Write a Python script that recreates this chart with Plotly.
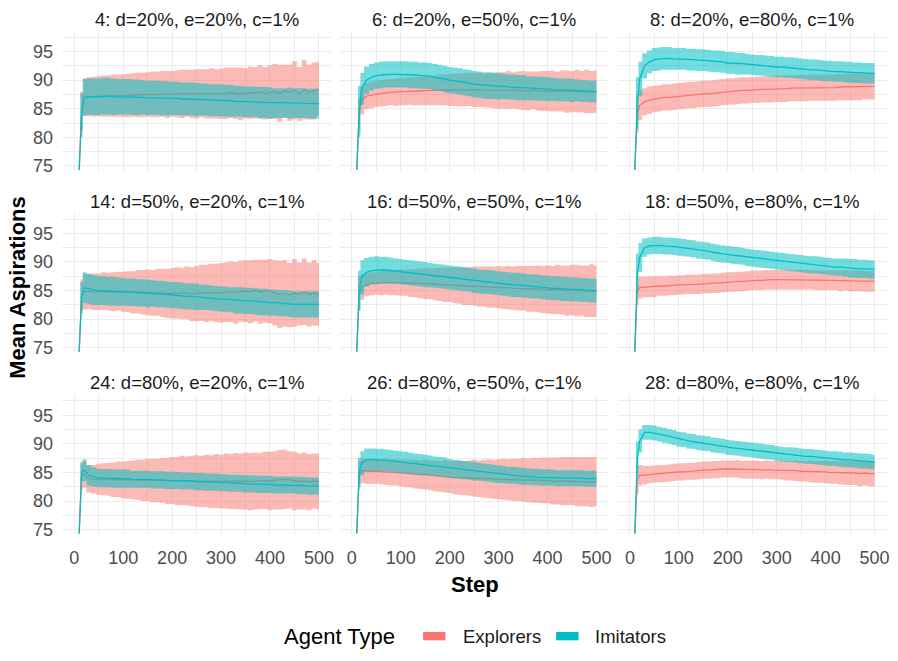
import plotly.graph_objects as go

# ---------------- data ----------------
STEPS = [10, 15, 20, 30, 40, 50, 60, 70, 80, 90, 100,
         110, 120, 130, 140, 150, 160, 170, 180, 190, 200,
         210, 220, 230, 240, 250, 260, 270, 280, 290, 300,
         310, 320, 330, 340, 350, 360, 370, 380, 390, 400,
         410, 420, 430, 440, 450, 460, 470, 480, 490, 500]

PANEL_TITLES = ["4: d=20%, e=20%, c=1%", "6: d=20%, e=50%, c=1%", "8: d=20%, e=80%, c=1%",
                "14: d=50%, e=20%, c=1%", "16: d=50%, e=50%, c=1%", "18: d=50%, e=80%, c=1%",
                "24: d=80%, e=20%, c=1%", "26: d=80%, e=50%, c=1%", "28: d=80%, e=80%, c=1%"]

X_TICKS = [0, 100, 200, 300, 400, 500]
Y_TICKS = [75, 80, 85, 90, 95]
SERIES_NAMES = ["Explorers", "Imitators"]

# panel 4
EXP_MEAN_4 = [74.3, 84.0, 87.0, 87.1, 87.1, 87.2, 87.2, 87.2, 87.3, 87.3, 87.3,
              87.3, 87.4, 87.4, 87.4, 87.5, 87.5, 87.5, 87.6, 87.5, 87.6,
              87.6, 87.6, 87.7, 87.6, 87.6, 87.7, 87.6, 87.7, 87.6, 87.6,
              87.7, 87.8, 87.7, 87.6, 87.7, 87.8, 87.8, 87.9, 87.7, 87.9,
              88.0, 87.7, 88.1, 87.8, 88.2, 87.6, 88.3, 87.9, 88.1, 88.5]
EXP_SD_4 = [0.0, 4.0, 3.3, 3.4, 3.5, 3.5, 3.6, 3.6, 3.7, 3.7, 3.7,
            3.8, 3.8, 3.9, 3.9, 3.9, 4.0, 4.0, 4.0, 4.1, 4.0,
            4.1, 4.2, 4.1, 4.2, 4.3, 4.2, 4.3, 4.4, 4.3, 4.4,
            4.5, 4.4, 4.5, 4.6, 4.4, 4.6, 4.5, 4.7, 4.6, 4.7,
            4.8, 5.0, 4.6, 4.9, 5.1, 4.7, 5.2, 4.8, 5.0, 4.7]
IMI_MEAN_4 = [74.3, 84.5, 87.0, 87.1, 87.1, 87.1, 87.2, 87.2, 87.1, 87.1, 87.1,
              87.1, 87.0, 87.0, 87.0, 86.9, 86.9, 86.9, 86.8, 86.8, 86.8,
              86.8, 86.7, 86.7, 86.7, 86.6, 86.6, 86.6, 86.5, 86.5, 86.5,
              86.4, 86.4, 86.3, 86.3, 86.2, 86.2, 86.2, 86.1, 86.1, 86.0,
              86.0, 86.0, 86.0, 86.0, 86.0, 86.0, 86.0, 85.9, 85.9, 85.9]
IMI_SD_4 = [0.0, 3.2, 3.2, 3.2, 3.2, 3.2, 3.2, 3.2, 3.2, 3.1, 3.1,
            3.1, 3.1, 3.1, 3.0, 3.0, 3.0, 3.0, 3.0, 3.0, 2.9,
            2.9, 2.9, 2.9, 2.9, 2.9, 2.8, 2.8, 2.8, 2.8, 2.8,
            2.8, 2.8, 2.7, 2.7, 2.7, 2.7, 2.7, 2.7, 2.7, 2.7,
            2.6, 2.6, 2.6, 2.7, 2.6, 2.6, 2.6, 2.6, 2.6, 2.6]

# panel 6
EXP_MEAN_6 = [74.3, 84.0, 86.5, 87.2, 87.4, 87.6, 87.7, 87.8, 87.9, 87.9, 88.0,
              88.0, 88.1, 88.1, 88.1, 88.2, 88.2, 88.2, 88.3, 88.3, 88.3,
              88.3, 88.3, 88.3, 88.4, 88.3, 88.3, 88.2, 88.3, 88.2, 88.2,
              88.2, 88.3, 88.2, 88.2, 88.2, 88.1, 88.2, 88.1, 88.1, 88.1,
              88.1, 88.0, 88.1, 88.0, 88.0, 88.1, 88.0, 88.0, 87.9, 88.0]
EXP_SD_6 = [0.0, 3.0, 2.5, 2.3, 2.3, 2.3, 2.3, 2.3, 2.3, 2.4, 2.4,
            2.4, 2.4, 2.5, 2.5, 2.6, 2.6, 2.6, 2.7, 2.7, 2.8,
            2.8, 2.9, 2.9, 2.9, 3.0, 3.0, 3.0, 3.1, 3.1, 3.2,
            3.2, 3.3, 3.2, 3.3, 3.4, 3.4, 3.3, 3.4, 3.5, 3.5,
            3.6, 3.5, 3.6, 3.7, 3.6, 3.7, 3.6, 3.8, 3.7, 3.7]
IMI_MEAN_6 = [74.3, 84.5, 88.5, 90.0, 90.5, 90.8, 90.9, 91.0, 91.0, 91.0, 91.0,
              91.0, 90.9, 90.9, 90.8, 90.8, 90.7, 90.5, 90.4, 90.2, 90.0,
              89.9, 89.8, 89.6, 89.5, 89.3, 89.2, 89.1, 89.0, 89.0, 88.9,
              88.9, 88.8, 88.8, 88.7, 88.7, 88.6, 88.6, 88.5, 88.5, 88.4,
              88.4, 88.3, 88.3, 88.3, 88.2, 88.2, 88.1, 88.1, 88.0, 88.0]
IMI_SD_6 = [0.0, 4.5, 2.8, 2.4, 2.3, 2.3, 2.3, 2.3, 2.3, 2.3, 2.3,
            2.3, 2.3, 2.3, 2.3, 2.3, 2.3, 2.3, 2.3, 2.3, 2.3,
            2.3, 2.3, 2.3, 2.3, 2.3, 2.3, 2.3, 2.3, 2.3, 2.3,
            2.2, 2.2, 2.2, 2.2, 2.2, 2.1, 2.1, 2.1, 2.1, 2.1,
            2.0, 2.0, 2.0, 2.0, 2.0, 1.9, 1.9, 1.9, 1.9, 1.9]

# panel 8
EXP_MEAN_8 = [74.3, 84.0, 85.6, 86.2, 86.5, 86.7, 86.8, 87.0, 87.0, 87.1, 87.2,
              87.3, 87.4, 87.4, 87.5, 87.6, 87.6, 87.7, 87.8, 87.9, 88.0,
              88.0, 88.1, 88.2, 88.2, 88.3, 88.3, 88.4, 88.4, 88.4, 88.5,
              88.5, 88.5, 88.6, 88.6, 88.6, 88.6, 88.7, 88.7, 88.7, 88.7,
              88.7, 88.7, 88.8, 88.8, 88.8, 88.8, 88.8, 88.9, 88.9, 88.9]
EXP_SD_8 = [0.0, 3.3, 2.6, 2.4, 2.4, 2.3, 2.3, 2.3, 2.3, 2.3, 2.3,
            2.3, 2.3, 2.3, 2.3, 2.3, 2.3, 2.3, 2.3, 2.3, 2.3,
            2.3, 2.3, 2.3, 2.3, 2.3, 2.3, 2.3, 2.3, 2.3, 2.3,
            2.3, 2.3, 2.3, 2.3, 2.3, 2.3, 2.3, 2.3, 2.3, 2.3,
            2.3, 2.3, 2.3, 2.3, 2.3, 2.3, 2.3, 2.3, 2.3, 2.3]
IMI_MEAN_8 = [74.3, 86.0, 90.2, 92.5, 93.2, 93.6, 93.7, 93.8, 93.8, 93.7, 93.7,
              93.7, 93.6, 93.6, 93.5, 93.5, 93.4, 93.3, 93.3, 93.2, 93.0,
              93.0, 92.9, 92.9, 92.8, 92.7, 92.6, 92.6, 92.5, 92.4, 92.3,
              92.3, 92.2, 92.2, 92.1, 92.0, 91.9, 91.8, 91.8, 91.7, 91.6,
              91.6, 91.5, 91.5, 91.4, 91.4, 91.3, 91.3, 91.2, 91.2, 91.2]
IMI_SD_8 = [0.0, 4.5, 3.0, 2.2, 2.0, 2.0, 2.0, 2.0, 2.0, 1.9, 1.9,
            1.9, 1.9, 1.9, 1.9, 1.9, 1.9, 1.9, 1.9, 1.9, 1.9,
            1.9, 1.9, 1.9, 1.8, 1.8, 1.8, 1.8, 1.8, 1.8, 1.8,
            1.8, 1.8, 1.8, 1.8, 1.8, 1.8, 1.8, 1.8, 1.8, 1.8,
            1.8, 1.8, 1.8, 1.8, 1.8, 1.8, 1.8, 1.8, 1.8, 1.8]

# panel 14
EXP_MEAN_14 = [74.3, 84.0, 84.8, 84.9, 84.8, 84.8, 84.9, 84.8, 84.8, 84.9, 84.8,
               84.8, 84.7, 84.8, 84.7, 84.7, 84.6, 84.7, 84.6, 84.5, 84.5,
               84.6, 84.5, 84.6, 84.4, 84.5, 84.6, 84.5, 84.7, 84.6, 84.6,
               84.7, 84.8, 84.6, 84.9, 84.9, 84.8, 85.0, 84.8, 84.9, 84.9,
               84.6, 84.3, 84.5, 84.2, 84.6, 84.4, 84.8, 84.3, 84.6, 84.3]
EXP_SD_14 = [0.0, 3.0, 3.1, 3.1, 3.2, 3.2, 3.3, 3.3, 3.4, 3.4, 3.5,
             3.6, 3.7, 3.8, 3.9, 4.0, 4.0, 4.1, 4.2, 4.3, 4.4,
             4.5, 4.5, 4.6, 4.7, 4.8, 4.9, 5.0, 5.0, 5.1, 5.2,
             5.2, 5.3, 5.4, 5.3, 5.4, 5.5, 5.4, 5.6, 5.5, 5.6,
             5.7, 5.9, 5.8, 5.6, 5.9, 5.5, 5.8, 5.6, 5.7, 5.5]
IMI_MEAN_14 = [74.3, 84.0, 85.5, 85.3, 85.1, 85.0, 85.0, 84.9, 84.9, 84.8, 84.8,
               84.7, 84.7, 84.6, 84.6, 84.5, 84.5, 84.4, 84.4, 84.3, 84.2,
               84.2, 84.1, 84.0, 84.0, 83.9, 83.8, 83.8, 83.7, 83.6, 83.5,
               83.5, 83.4, 83.3, 83.3, 83.2, 83.2, 83.1, 83.0, 83.0, 82.9,
               82.9, 82.8, 82.8, 82.7, 82.6, 82.6, 82.6, 82.6, 82.6, 82.6]
IMI_SD_14 = [0.0, 2.5, 2.7, 2.6, 2.6, 2.5, 2.5, 2.5, 2.5, 2.5, 2.4,
             2.4, 2.4, 2.4, 2.4, 2.4, 2.3, 2.3, 2.3, 2.3, 2.3,
             2.3, 2.3, 2.3, 2.3, 2.3, 2.2, 2.2, 2.2, 2.2, 2.2,
             2.2, 2.2, 2.3, 2.3, 2.3, 2.3, 2.3, 2.3, 2.3, 2.3,
             2.3, 2.3, 2.3, 2.3, 2.3, 2.3, 2.3, 2.3, 2.3, 2.3]

# panel 16
EXP_MEAN_16 = [74.3, 84.5, 85.6, 86.0, 86.2, 86.3, 86.3, 86.4, 86.4, 86.4, 86.4,
               86.4, 86.3, 86.3, 86.3, 86.2, 86.2, 86.1, 86.1, 86.0, 86.0,
               85.9, 85.9, 85.8, 85.8, 85.8, 85.7, 85.7, 85.6, 85.6, 85.6,
               85.5, 85.5, 85.4, 85.4, 85.4, 85.3, 85.3, 85.3, 85.2, 85.2,
               85.1, 85.2, 85.1, 85.0, 85.1, 85.0, 85.0, 84.9, 85.0, 84.9]
EXP_SD_16 = [0.0, 3.0, 2.2, 2.0, 2.0, 2.0, 2.1, 2.1, 2.2, 2.2, 2.3,
             2.3, 2.4, 2.5, 2.6, 2.7, 2.7, 2.8, 2.9, 3.0, 3.0,
             3.1, 3.2, 3.3, 3.3, 3.4, 3.5, 3.5, 3.6, 3.6, 3.7,
             3.7, 3.8, 3.8, 3.9, 3.9, 4.0, 4.0, 4.1, 4.1, 4.2,
             4.2, 4.3, 4.3, 4.4, 4.4, 4.5, 4.4, 4.5, 4.6, 4.5]
IMI_MEAN_16 = [74.3, 85.0, 87.3, 88.2, 88.5, 88.6, 88.6, 88.6, 88.5, 88.4, 88.3,
               88.2, 88.1, 88.0, 87.9, 87.8, 87.7, 87.6, 87.5, 87.4, 87.3,
               87.2, 87.1, 87.0, 86.9, 86.7, 86.6, 86.5, 86.5, 86.4, 86.3,
               86.2, 86.1, 86.0, 86.0, 85.9, 85.8, 85.7, 85.7, 85.6, 85.5,
               85.4, 85.4, 85.3, 85.3, 85.2, 85.2, 85.1, 85.1, 85.0, 85.0]
IMI_SD_16 = [0.0, 3.5, 3.0, 2.5, 2.4, 2.4, 2.3, 2.3, 2.3, 2.2, 2.2,
             2.2, 2.2, 2.2, 2.2, 2.2, 2.1, 2.1, 2.1, 2.1, 2.1,
             2.1, 2.1, 2.1, 2.1, 2.1, 2.1, 2.1, 2.1, 2.1, 2.1,
             2.1, 2.1, 2.1, 2.1, 2.1, 2.1, 2.1, 2.1, 2.1, 2.1,
             2.1, 2.1, 2.1, 2.1, 2.1, 2.1, 2.1, 2.1, 2.1, 2.1]

# panel 18
EXP_MEAN_18 = [74.3, 85.0, 85.5, 85.6, 85.7, 85.7, 85.8, 85.8, 85.9, 85.9, 86.0,
               86.0, 86.1, 86.1, 86.1, 86.2, 86.2, 86.3, 86.3, 86.4, 86.5,
               86.5, 86.6, 86.6, 86.7, 86.8, 86.8, 86.8, 86.9, 86.9, 86.9,
               86.9, 86.9, 86.9, 86.9, 86.9, 86.9, 86.9, 86.8, 86.8, 86.8,
               86.8, 86.8, 86.7, 86.8, 86.7, 86.7, 86.7, 86.6, 86.6, 86.6]
EXP_SD_18 = [0.0, 2.5, 1.9, 1.8, 1.8, 1.8, 1.7, 1.7, 1.7, 1.7, 1.7,
             1.7, 1.7, 1.7, 1.7, 1.7, 1.7, 1.7, 1.7, 1.7, 1.7,
             1.7, 1.7, 1.7, 1.7, 1.7, 1.7, 1.7, 1.7, 1.7, 1.7,
             1.7, 1.7, 1.7, 1.7, 1.7, 1.7, 1.7, 1.7, 1.7, 1.7,
             1.7, 1.7, 1.8, 1.8, 1.8, 1.8, 1.8, 1.8, 1.8, 1.8]
IMI_MEAN_18 = [74.3, 88.0, 90.8, 92.5, 92.8, 92.9, 92.9, 92.8, 92.8, 92.7, 92.6,
               92.5, 92.4, 92.3, 92.1, 92.0, 91.9, 91.7, 91.5, 91.4, 91.3,
               91.2, 91.1, 91.0, 90.8, 90.7, 90.6, 90.5, 90.4, 90.3, 90.2,
               90.1, 90.0, 89.9, 89.8, 89.7, 89.6, 89.5, 89.5, 89.4, 89.3,
               89.2, 89.1, 89.1, 89.0, 88.9, 88.9, 88.8, 88.8, 88.7, 88.7]
IMI_SD_18 = [0.0, 3.5, 2.5, 1.6, 1.5, 1.5, 1.5, 1.5, 1.5, 1.5, 1.5,
             1.5, 1.5, 1.5, 1.5, 1.5, 1.5, 1.5, 1.5, 1.5, 1.5,
             1.5, 1.5, 1.5, 1.5, 1.5, 1.5, 1.5, 1.5, 1.5, 1.5,
             1.5, 1.5, 1.5, 1.5, 1.5, 1.5, 1.5, 1.5, 1.5, 1.5,
             1.5, 1.5, 1.5, 1.6, 1.6, 1.6, 1.6, 1.6, 1.6, 1.6]

# panel 24
EXP_MEAN_24 = [74.3, 84.5, 84.6, 83.9, 83.8, 83.8, 83.8, 83.8, 83.7, 83.8, 83.7,
               83.7, 83.7, 83.7, 83.6, 83.7, 83.6, 83.6, 83.6, 83.5, 83.6,
               83.5, 83.6, 83.5, 83.5, 83.5, 83.4, 83.5, 83.4, 83.5, 83.4,
               83.5, 83.4, 83.5, 83.4, 83.5, 83.4, 83.5, 83.5, 83.6, 83.5,
               83.6, 83.7, 83.8, 83.7, 83.5, 83.4, 83.5, 83.3, 83.5, 83.4]
EXP_SD_24 = [0.0, 2.5, 2.3, 2.4, 2.5, 2.7, 2.8, 2.9, 3.0, 3.1, 3.2,
             3.3, 3.4, 3.5, 3.6, 3.7, 3.8, 3.8, 3.9, 4.0, 4.1,
             4.2, 4.3, 4.3, 4.4, 4.5, 4.5, 4.6, 4.6, 4.7, 4.7,
             4.8, 4.8, 4.9, 4.9, 5.0, 5.0, 5.0, 4.9, 5.0, 5.1,
             5.1, 5.2, 5.2, 5.0, 5.1, 4.9, 5.0, 4.9, 4.8, 4.9]
IMI_MEAN_24 = [74.3, 85.0, 85.4, 84.5, 84.2, 84.0, 84.0, 84.0, 83.9, 83.9, 83.9,
               83.9, 83.8, 83.8, 83.8, 83.8, 83.7, 83.7, 83.7, 83.6, 83.6,
               83.6, 83.5, 83.5, 83.5, 83.4, 83.4, 83.3, 83.3, 83.3, 83.2,
               83.2, 83.1, 83.1, 83.1, 83.0, 83.0, 83.0, 82.9, 82.9, 82.9,
               82.8, 82.8, 82.8, 82.8, 82.8, 82.7, 82.7, 82.6, 82.6, 82.6]
IMI_SD_24 = [0.0, 1.6, 1.9, 1.8, 1.7, 1.6, 1.6, 1.6, 1.6, 1.6, 1.6,
             1.6, 1.5, 1.5, 1.5, 1.5, 1.5, 1.5, 1.5, 1.5, 1.5,
             1.5, 1.5, 1.5, 1.5, 1.5, 1.5, 1.5, 1.5, 1.5, 1.5,
             1.5, 1.5, 1.5, 1.5, 1.5, 1.5, 1.5, 1.5, 1.5, 1.5,
             1.5, 1.5, 1.5, 1.5, 1.5, 1.5, 1.5, 1.5, 1.5, 1.5]

# panel 26
EXP_MEAN_26 = [74.3, 84.5, 85.3, 85.2, 85.2, 85.2, 85.1, 85.1, 85.0, 85.0, 84.9,
               84.8, 84.8, 84.7, 84.6, 84.6, 84.5, 84.4, 84.3, 84.3, 84.2,
               84.1, 84.1, 84.0, 84.0, 84.0, 83.9, 83.9, 83.9, 83.8, 83.8,
               83.8, 83.7, 83.7, 83.7, 83.7, 83.6, 83.6, 83.6, 83.6, 83.6,
               83.5, 83.5, 83.5, 83.5, 83.5, 83.4, 83.4, 83.4, 83.3, 83.4]
EXP_SD_26 = [0.0, 2.5, 2.2, 2.2, 2.2, 2.2, 2.2, 2.3, 2.3, 2.3, 2.3,
             2.4, 2.4, 2.5, 2.5, 2.6, 2.6, 2.7, 2.7, 2.8, 2.8,
             2.9, 3.0, 3.0, 3.1, 3.2, 3.2, 3.3, 3.4, 3.4, 3.5,
             3.6, 3.6, 3.7, 3.7, 3.8, 3.8, 3.9, 3.9, 4.0, 4.0,
             4.1, 4.1, 4.2, 4.2, 4.2, 4.3, 4.3, 4.3, 4.4, 4.3]
IMI_MEAN_26 = [74.3, 85.0, 86.6, 87.2, 87.2, 87.2, 87.2, 87.1, 87.0, 86.9, 86.8,
               86.7, 86.6, 86.5, 86.4, 86.3, 86.2, 86.1, 86.0, 85.9, 85.7,
               85.6, 85.5, 85.4, 85.3, 85.2, 85.1, 85.0, 84.9, 84.8, 84.7,
               84.6, 84.5, 84.5, 84.4, 84.3, 84.3, 84.2, 84.2, 84.1, 84.1,
               84.1, 84.0, 84.0, 84.0, 84.0, 84.0, 84.0, 83.9, 83.9, 83.9]
IMI_SD_26 = [0.0, 2.5, 2.1, 2.0, 2.0, 1.95, 1.95, 1.9, 1.9, 1.9, 1.9,
             1.9, 1.85, 1.8, 1.8, 1.8, 1.75, 1.7, 1.7, 1.7, 1.65,
             1.6, 1.6, 1.6, 1.6, 1.6, 1.55, 1.55, 1.55, 1.55, 1.55,
             1.5, 1.5, 1.5, 1.5, 1.5, 1.45, 1.45, 1.45, 1.45, 1.45,
             1.4, 1.4, 1.4, 1.4, 1.4, 1.4, 1.4, 1.4, 1.4, 1.4]

# panel 28
EXP_MEAN_28 = [74.3, 83.7, 84.5, 84.5, 84.6, 84.7, 84.8, 84.8, 84.9, 85.0, 85.1,
               85.1, 85.2, 85.2, 85.3, 85.4, 85.4, 85.5, 85.5, 85.6, 85.6,
               85.6, 85.6, 85.5, 85.5, 85.5, 85.5, 85.4, 85.5, 85.4, 85.4,
               85.4, 85.3, 85.3, 85.3, 85.2, 85.2, 85.2, 85.1, 85.1, 85.1,
               85.0, 85.0, 85.0, 84.9, 84.9, 84.9, 84.8, 84.9, 84.8, 84.8]
EXP_SD_28 = [0.0, 2.5, 1.8, 1.6, 1.5, 1.5, 1.5, 1.5, 1.5, 1.5, 1.5,
             1.5, 1.5, 1.5, 1.5, 1.5, 1.5, 1.5, 1.5, 1.5, 1.5,
             1.5, 1.55, 1.55, 1.6, 1.6, 1.6, 1.6, 1.6, 1.6, 1.6,
             1.7, 1.7, 1.7, 1.8, 1.8, 1.8, 1.9, 1.9, 1.9, 2.0,
             2.0, 2.0, 2.1, 2.1, 2.1, 2.1, 2.2, 2.2, 2.2, 2.2]
IMI_MEAN_28 = [74.3, 87.4, 90.5, 92.0, 92.0, 91.9, 91.7, 91.5, 91.3, 91.1, 90.8,
               90.7, 90.5, 90.4, 90.2, 90.1, 90.0, 89.8, 89.7, 89.6, 89.4,
               89.3, 89.2, 89.1, 89.0, 88.9, 88.8, 88.7, 88.6, 88.5, 88.3,
               88.2, 88.1, 88.1, 88.0, 87.9, 87.8, 87.8, 87.7, 87.6, 87.5,
               87.4, 87.4, 87.3, 87.2, 87.2, 87.1, 87.0, 87.0, 86.9, 86.8]
IMI_SD_28 = [0.0, 3.0, 2.0, 1.3, 1.3, 1.3, 1.3, 1.3, 1.3, 1.3, 1.3,
             1.3, 1.3, 1.3, 1.3, 1.3, 1.3, 1.3, 1.3, 1.3, 1.3,
             1.3, 1.3, 1.3, 1.3, 1.3, 1.3, 1.3, 1.3, 1.3, 1.3,
             1.3, 1.3, 1.3, 1.3, 1.3, 1.3, 1.3, 1.3, 1.3, 1.3,
             1.3, 1.3, 1.3, 1.3, 1.3, 1.3, 1.3, 1.3, 1.3, 1.3]

PANELS = [
    (EXP_MEAN_4, EXP_SD_4, IMI_MEAN_4, IMI_SD_4),
    (EXP_MEAN_6, EXP_SD_6, IMI_MEAN_6, IMI_SD_6),
    (EXP_MEAN_8, EXP_SD_8, IMI_MEAN_8, IMI_SD_8),
    (EXP_MEAN_14, EXP_SD_14, IMI_MEAN_14, IMI_SD_14),
    (EXP_MEAN_16, EXP_SD_16, IMI_MEAN_16, IMI_SD_16),
    (EXP_MEAN_18, EXP_SD_18, IMI_MEAN_18, IMI_SD_18),
    (EXP_MEAN_24, EXP_SD_24, IMI_MEAN_24, IMI_SD_24),
    (EXP_MEAN_26, EXP_SD_26, IMI_MEAN_26, IMI_SD_26),
    (EXP_MEAN_28, EXP_SD_28, IMI_MEAN_28, IMI_SD_28),
]

# ---------------- style ----------------
W, H = 898, 661
FONT = "Liberation Sans, Arial, sans-serif"
EXP_COL = "#F8766D"
IMI_COL = "#00BFC4"
EXP_FILL = "rgba(248,118,109,0.50)"
IMI_FILL = "rgba(0,191,196,0.55)"
GRID = "#EBEBEB"

COL_LEFT = [62.25, 340.75, 619.75]
PANEL_W = 270.0
ROW_TOP = [31.8, 215.3, 398.8]
PANEL_H = 140.3

fig = go.Figure()
layout = dict(
    width=W, height=H, margin=dict(l=0, r=0, t=0, b=0),
    paper_bgcolor="white", plot_bgcolor="white", showlegend=False,
    font=dict(family=FONT, color="#4D4D4D"),
)
annotations = []
shapes = []

for i, (em, es, im, isd) in enumerate(PANELS):
    r, c = divmod(i, 3)
    n = i + 1
    xa = "x" if n == 1 else f"x{n}"
    ya = "y" if n == 1 else f"y{n}"
    x0 = COL_LEFT[c] / W
    x1 = (COL_LEFT[c] + PANEL_W) / W
    y1 = 1 - ROW_TOP[r] / H
    y0 = 1 - (ROW_TOP[r] + PANEL_H) / H

    e_lo = [m - s for m, s in zip(em, es)]
    e_hi = [m + s for m, s in zip(em, es)]
    i_lo = [m - s for m, s in zip(im, isd)]
    i_hi = [m + s for m, s in zip(im, isd)]

    # explorer band (bottom layer)
    fig.add_trace(go.Scatter(x=STEPS, y=e_lo, mode="lines", xaxis=xa, yaxis=ya,
                             line=dict(width=0, shape="hvh", color=EXP_FILL), hoverinfo="skip"))
    fig.add_trace(go.Scatter(x=STEPS, y=e_hi, mode="lines", xaxis=xa, yaxis=ya, fill="tonexty",
                             fillcolor=EXP_FILL, line=dict(width=0, shape="hvh", color=EXP_FILL),
                             hoverinfo="skip"))
    # mean lines
    fig.add_trace(go.Scatter(x=STEPS, y=em, mode="lines", xaxis=xa, yaxis=ya,
                             line=dict(color=EXP_COL, width=1.3), hoverinfo="skip"))
    fig.add_trace(go.Scatter(x=STEPS, y=im, mode="lines", xaxis=xa, yaxis=ya,
                             line=dict(color=IMI_COL, width=1.3), hoverinfo="skip"))
    # imitator band (top layer)
    fig.add_trace(go.Scatter(x=STEPS, y=i_lo, mode="lines", xaxis=xa, yaxis=ya,
                             line=dict(width=0, shape="hvh", color=IMI_FILL), hoverinfo="skip"))
    fig.add_trace(go.Scatter(x=STEPS, y=i_hi, mode="lines", xaxis=xa, yaxis=ya, fill="tonexty",
                             fillcolor=IMI_FILL, line=dict(width=0, shape="hvh", color=IMI_FILL),
                             hoverinfo="skip"))

    xkey = "xaxis" if n == 1 else f"xaxis{n}"
    ykey = "yaxis" if n == 1 else f"yaxis{n}"
    layout[xkey] = dict(
        domain=[x0, x1], anchor=ya, range=[-25, 525],
        tickmode="array", tickvals=X_TICKS, ticktext=[str(v) for v in X_TICKS],
        showticklabels=(r == 2), ticks="", showline=False, zeroline=False,
        ticklabelstandoff=11,
        showgrid=True, gridcolor=GRID, gridwidth=1.1,
        minor=dict(showgrid=True, tickmode="linear", tick0=0, dtick=50, gridcolor=GRID, gridwidth=0.7),
        tickfont=dict(size=18, color="#4D4D4D", family=FONT),
    )
    layout[ykey] = dict(
        domain=[y0, y1], anchor=xa, range=[74.2, 98.5],
        tickmode="array", tickvals=Y_TICKS, ticktext=[str(v) for v in Y_TICKS],
        showticklabels=(c == 0), ticks="", showline=False, zeroline=False,
        ticklabelstandoff=8,
        showgrid=True, gridcolor=GRID, gridwidth=1.1,
        minor=dict(showgrid=True, tickmode="linear", tick0=75, dtick=2.5, gridcolor=GRID, gridwidth=0.7),
        tickfont=dict(size=18, color="#4D4D4D", family=FONT),
    )
    annotations.append(dict(
        text=PANEL_TITLES[i], xref="paper", yref="paper",
        x=(x0 + x1) / 2, y=1 - (ROW_TOP[r] - 12.3) / H,
        xanchor="center", yanchor="middle", showarrow=False,
        font=dict(size=18.5, color="#1A1A1A", family=FONT),
    ))

# axis titles
annotations.append(dict(text="<b>Step</b>", xref="paper", yref="paper",
                        x=477 / W, y=1 - 590 / H, xanchor="center", yanchor="middle",
                        showarrow=False, font=dict(size=22, color="#000000", family=FONT)))
annotations.append(dict(text="<b>Mean Aspirations</b>", xref="paper", yref="paper",
                        x=17.5 / W, y=1 - 290 / H, xanchor="center", yanchor="middle",
                        textangle=-90, showarrow=False,
                        font=dict(size=22, color="#000000", family=FONT)))

# legend (drawn manually, ggplot style)
LEG_Y = 642
annotations.append(dict(text="Agent Type", xref="paper", yref="paper",
                        x=283 / W, y=1 - LEG_Y / H, xanchor="left", yanchor="middle",
                        showarrow=False, font=dict(size=22, color="#000000", family=FONT)))
legend_items = [(SERIES_NAMES[0], EXP_COL, 424.5, 463), (SERIES_NAMES[1], IMI_COL, 558, 595)]
for name, col, kx, tx in legend_items:
    shapes.append(dict(type="rect", xref="paper", yref="paper",
                       x0=kx / W, x1=(kx + 22.5) / W,
                       y0=1 - (LEG_Y + 4.2) / H, y1=1 - (LEG_Y - 4.2) / H,
                       line=dict(width=0), fillcolor=col))
    annotations.append(dict(text=name, xref="paper", yref="paper",
                            x=tx / W, y=1 - LEG_Y / H, xanchor="left", yanchor="middle",
                            showarrow=False, font=dict(size=18.5, color="#1A1A1A", family=FONT)))

layout["annotations"] = annotations
layout["shapes"] = shapes
fig.update_layout(**layout)

fig.write_html("out.html")
